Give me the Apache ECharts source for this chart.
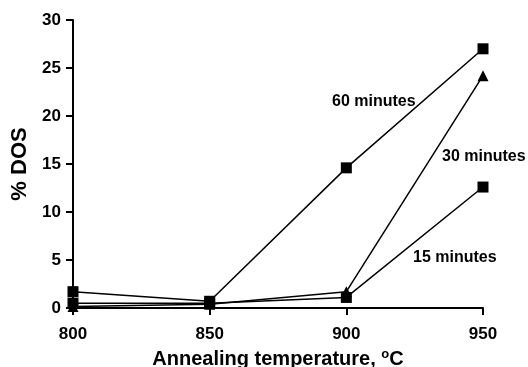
<!DOCTYPE html>
<html><head><meta charset="utf-8">
<script src="https://cdn.jsdelivr.net/npm/echarts@6/dist/echarts.min.js"></script>
<style>html,body{margin:0;padding:0;background:#fff}#c{width:528px;height:367px}</style>
</head><body><div id="c"></div>
<script>
const temps = [800, 850, 900, 950];
const min60 = [1.7, 0.7, 14.6, 27.0];
const min30 = [0.15, 0.4, 1.7, 24.2];
const min15 = [0.5, 0.5, 1.1, 12.6];
const xTicks = [800, 850, 900, 950];
const yTicks = [0, 5, 10, 15, 20, 25, 30];
const seriesNames = ['60 minutes', '30 minutes', '15 minutes'];

const font = 'Liberation Sans, Arial, sans-serif';
function pts(v){ return temps.map((t,i)=>[t, v[i]]); }
const chart = echarts.init(document.getElementById('c'));
const lineStyle = {color:'#000', width:1.5};
chart.setOption({
  animation:false,
  grid:{left:73, right:45, top:20, bottom:59, containLabel:false, outerBoundsMode:'none'},
  xAxis:{type:'value', min:800, max:950, interval:50,
    axisLine:{lineStyle:{color:'#000', width:2}},
    axisTick:{show:true, length:7, lineStyle:{color:'#000', width:2}},
    splitLine:{show:false},
    axisLabel:{color:'#000', fontWeight:'bold', fontSize:17, fontFamily:font, margin:18},
    name:'Annealing temperature, {s|o}C', nameLocation:'middle', nameGap:40,
    nameTextStyle:{color:'#000', fontWeight:'bold', fontSize:20, fontFamily:font,
      rich:{s:{fontSize:13, fontWeight:'bold', verticalAlign:'top', padding:[0,0,9,0], fontFamily:font}}}
  },
  yAxis:{type:'value', min:0, max:30, interval:5,
    axisLine:{show:true, lineStyle:{color:'#000', width:2}},
    axisTick:{show:true, length:7, lineStyle:{color:'#000', width:2}},
    splitLine:{show:false},
    axisLabel:{color:'#000', fontWeight:'bold', fontSize:17, fontFamily:font, margin:12},
    name:'% DOS', nameLocation:'middle', nameGap:41, nameRotate:90,
    nameTextStyle:{color:'#000', fontWeight:'bold', fontSize:22, fontFamily:font, padding:[0,0,0,0]}
  },
  series:[
    {name:seriesNames[0], type:'line', data:pts(min60), symbol:'rect', symbolSize:11,
     itemStyle:{color:'#000'}, lineStyle:lineStyle},
    {name:seriesNames[1], type:'line', data:pts(min30), symbol:'triangle', symbolSize:11,
     itemStyle:{color:'#000'}, lineStyle:lineStyle},
    {name:seriesNames[2], type:'line', data:pts(min15), symbol:'rect', symbolSize:11,
     itemStyle:{color:'#000'}, lineStyle:lineStyle}
  ],
  graphic:[
    {type:'text', x:332, y:102, style:{text:seriesNames[0], fill:'#000', font:'bold 16px '+font, verticalAlign:'middle'}},
    {type:'text', x:442, y:157, style:{text:seriesNames[1], fill:'#000', font:'bold 16px '+font, verticalAlign:'middle'}},
    {type:'text', x:413, y:258, style:{text:seriesNames[2], fill:'#000', font:'bold 16px '+font, verticalAlign:'middle'}}
  ]
});
</script></body></html>
